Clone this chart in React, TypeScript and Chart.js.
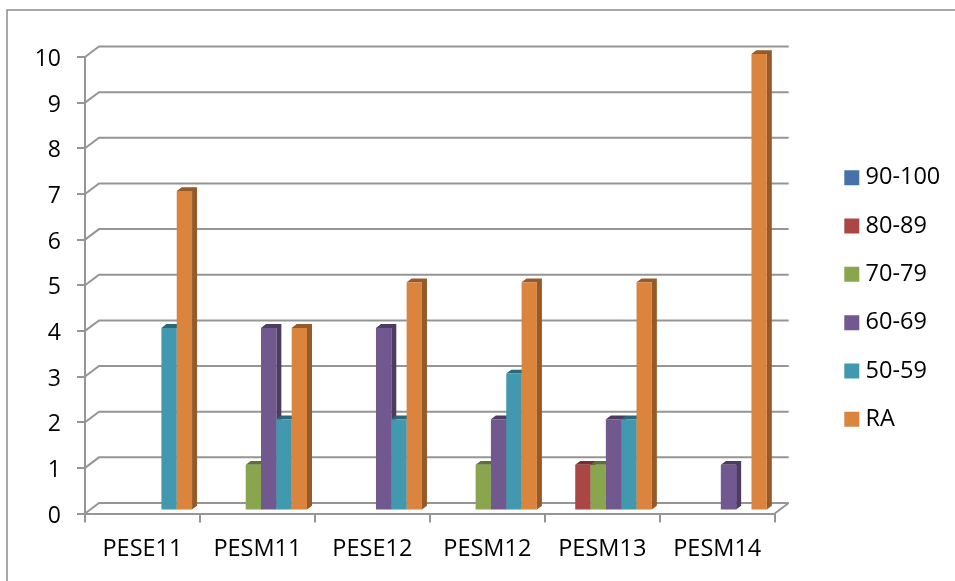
import React, { useEffect, useRef } from "react";
import { Chart, registerables } from "chart.js";

Chart.register(...registerables);

const categories = ["PESE11", "PESM11", "PESE12", "PESM12", "PESM13", "PESM14"];
const seriesNames = ["90-100", "80-89", "70-79", "60-69", "50-59", "RA"];
const s90 = [0, 0, 0, 0, 0, 0];
const s80 = [0, 0, 0, 0, 1, 0];
const s70 = [0, 1, 0, 1, 1, 0];
const s60 = [0, 4, 4, 2, 2, 1];
const s50 = [4, 2, 2, 3, 2, 0];
const sRA = [7, 4, 5, 5, 5, 10];
const faceColors = ["#4572A7", "#AA4643", "#89A54E", "#71588F", "#4198AF", "#DB843D"];
const shadeColors = ["#2f4d72", "#73302e", "#5d7035", "#4d3c61", "#2c6777", "#95592a"];
const yTicks = [0, 1, 2, 3, 4, 5, 6, 7, 8, 9, 10];

const LINE = "#959595";
const FONT = "'Open Sans', sans-serif";
const FONT_SIZE = 23.5;

const wall3d = {
  id: "wall3d",
  beforeDraw(chart: any) {
    const { ctx, width, height, chartArea, scales } = chart;
    ctx.save();
    ctx.strokeStyle = "#8c8c8c";
    ctx.lineWidth = 1.5;
    ctx.beginPath();
    ctx.moveTo(7, height);
    ctx.lineTo(7, 10);
    ctx.lineTo(width, 10);
    ctx.stroke();
    ctx.restore();
    // nudge the value labels so their digits sit centred on the ticks
    for (const item of scales.y.getLabelItems(chartArea)) {
      item.options.translation = [item.options.translation[0], item.options.translation[1] + 2.5];
    }
  },
  beforeDatasetsDraw(chart: any) {
    const { ctx, chartArea, scales } = chart;
    const dx = 14;
    const dy = -10.5;
    ctx.save();
    ctx.strokeStyle = LINE;
    ctx.lineWidth = 2;
    for (const v of yTicks) {
      const y = scales.y.getPixelForValue(v);
      ctx.beginPath();
      ctx.moveTo(chartArea.left, y);
      ctx.lineTo(chartArea.left + dx, y + dy);
      ctx.lineTo(chartArea.right + dx, y + dy);
      ctx.stroke();
    }
    const y0 = scales.y.getPixelForValue(0);
    ctx.beginPath();
    ctx.moveTo(chartArea.right, y0);
    ctx.lineTo(chartArea.right + dx, y0 + dy);
    ctx.stroke();
    ctx.restore();

    // bars left to right, with side and top faces, sitting mid-depth
    const ox = 3.6;
    const oy = -3;
    const sx = 5;
    const sy = -3.8;
    ctx.save();
    ctx.translate(ox, oy);
    for (let i = 0; i < seriesNames.length; i++) {
      const meta = chart.getDatasetMeta(i);
      meta.data.forEach((el: any, j: number) => {
        const v = chart.data.datasets[i].data[j];
        if (!v) return;
        const p = el.getProps(["x", "y", "base", "width"], true);
        const l = p.x - p.width / 2;
        const r = p.x + p.width / 2;
        ctx.fillStyle = shadeColors[i];
        ctx.beginPath();
        ctx.moveTo(r, p.base);
        ctx.lineTo(r + sx, p.base + sy);
        ctx.lineTo(r + sx, p.y + sy);
        ctx.lineTo(l + sx, p.y + sy);
        ctx.lineTo(l, p.y);
        ctx.lineTo(r, p.y);
        ctx.closePath();
        ctx.fill();
        el.draw(ctx);
      });
    }
    ctx.restore();
    return false;
  },
};

const legendPlace = {
  id: "legendPlace",
  afterUpdate(chart: any) {
    const lg = chart.legend;
    const w = lg.width;
    lg.left = 825;
    lg.right = 825 + w;
    lg.top = 141.2;
    lg.bottom = 141.2 + lg.height;
  },
};

export default function App() {
  const ref = useRef<HTMLCanvasElement | null>(null);
  useEffect(() => {
    const values = [s90, s80, s70, s60, s50, sRA];
    const chart = new Chart(ref.current as HTMLCanvasElement, {
      type: "bar",
      data: {
        labels: categories,
        datasets: seriesNames.map((name, i) => ({
          label: name,
          data: values[i],
          backgroundColor: faceColors[i],
          borderWidth: 0,
          barPercentage: 1,
          categoryPercentage: 0.8,
        })),
      },
      options: {
        responsive: false,
        animation: false,
        layout: { padding: { left: 0, top: 57, right: 55, bottom: 0 } },
        plugins: {
          tooltip: { enabled: false },
          title: { display: false },
          legend: {
            position: "right",
            align: "start",
            labels: {
              color: "#000",
              boxWidth: 4,
              boxHeight: 4,
              padding: 24.8,
              font: { family: FONT, size: FONT_SIZE },
              generateLabels: () =>
                seriesNames.map((text, i) => ({
                  text,
                  datasetIndex: i,
                  fillStyle: faceColors[i],
                  strokeStyle: faceColors[i],
                  lineWidth: 11,
                  fontColor: "#000",
                })),
            },
          },
        },
        scales: {
          x: {
            grid: {
              drawOnChartArea: false,
              drawTicks: true,
              tickLength: 9,
              color: LINE,
              lineWidth: 2,
              offset: true,
            },
            border: { color: LINE, width: 2 },
            ticks: { color: "#000", font: { family: FONT, size: FONT_SIZE }, padding: 13, maxRotation: 0 },
            afterFit(s: any) {
              s.height = 581 - 513.5;
            },
          },
          y: {
            min: 0,
            max: 10,
            afterBuildTicks(s: any) {
              s.ticks = yTicks.map((value) => ({ value }));
            },
            grid: { drawOnChartArea: false, tickLength: 8, color: LINE, lineWidth: 2 },
            border: { color: LINE, width: 2 },
            ticks: { color: "#000", font: { family: FONT, size: 23 }, padding: 16 },
            afterFit(s: any) {
              s.width = 85;
            },
          },
        },
      },
      plugins: [wall3d, legendPlace],
    } as any);
    return () => chart.destroy();
  }, []);
  return (
    <div style={{ position: "fixed", left: 0, top: 0, width: 955, height: 581, background: "#fff" }}>
      <canvas ref={ref} width={955} height={581} style={{ display: "block" }} />
    </div>
  );
}
